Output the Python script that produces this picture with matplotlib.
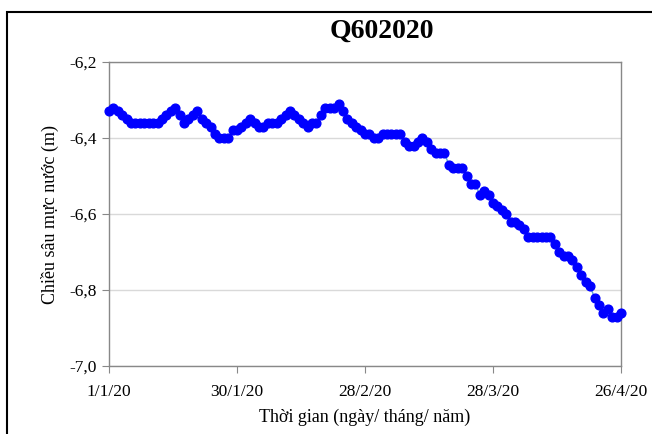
import numpy as np
import pandas as pd
import matplotlib
matplotlib.use("Agg")
import matplotlib.pyplot as plt
import matplotlib.patches as patches
from matplotlib.ticker import FuncFormatter, MultipleLocator

# groundwater depth, daily from 1/1/2020 to 26/4/2020
depth = [
    -6.33, -6.32, -6.33, -6.34, -6.35, -6.36, -6.36, -6.36, -6.36, -6.36,
    -6.36, -6.36, -6.35, -6.34, -6.33, -6.32, -6.34, -6.36, -6.35, -6.34,
    -6.33, -6.35, -6.36, -6.37, -6.39, -6.40, -6.40, -6.40, -6.38, -6.38,
    -6.37, -6.36, -6.35, -6.36, -6.37, -6.37, -6.36, -6.36, -6.36, -6.35,
    -6.34, -6.33, -6.34, -6.35, -6.36, -6.37, -6.36, -6.36, -6.34, -6.32,
    -6.32, -6.32, -6.31, -6.33, -6.35, -6.36, -6.37, -6.38, -6.39, -6.39,
    -6.40, -6.40, -6.39, -6.39, -6.39, -6.39, -6.39, -6.41, -6.42, -6.42,
    -6.41, -6.40, -6.41, -6.43, -6.44, -6.44, -6.44, -6.47, -6.48, -6.48,
    -6.48, -6.50, -6.52, -6.52, -6.55, -6.54, -6.55, -6.57, -6.58, -6.59,
    -6.60, -6.62, -6.62, -6.63, -6.64, -6.66, -6.66, -6.66, -6.66, -6.66,
    -6.66, -6.68, -6.70, -6.71, -6.71, -6.72, -6.74, -6.76, -6.78, -6.79,
    -6.82, -6.84, -6.86, -6.85, -6.87, -6.87, -6.86,
]
start = "2020-01-01"
title = "Q602020"
xlabel = "Thời gian (ngày/ tháng/ năm)"
ylabel = "Chiều sâu mực nước (m)"

dates = pd.date_range(start, periods=len(depth), freq="D")
day = (dates - dates[0]).days.values

plt.rcParams['font.family'] = ['Liberation Serif', 'DejaVu Serif']

fig = plt.figure(figsize=(6.52, 4.34), dpi=100)
ax = fig.add_axes([109/652, 1-366/434, (621-109)/652, (366-62)/434])

ax.plot(day, depth, '-', color='#5aa0d8', lw=1.0, zorder=2)
ax.plot(day, depth, 'o', color='#0000ff', ms=6.3, mec='#0000ff', zorder=3, clip_on=False)

ax.set_xlim(0, 116)
ax.set_ylim(-7.0, -6.2)
ax.xaxis.set_major_locator(MultipleLocator(29))
ax.yaxis.set_major_locator(MultipleLocator(0.2))

def xfmt(v, pos):
    d = dates[0] + pd.Timedelta(days=int(round(v)))
    return "%d/%d/%s" % (d.day, d.month, str(d.year)[2:])

def yfmt(v, pos):
    return ("%.1f" % v).replace('.', ',')

ax.xaxis.set_major_formatter(FuncFormatter(xfmt))
ax.yaxis.set_major_formatter(FuncFormatter(yfmt))
ax.tick_params(labelsize=12.5, colors='black', direction='out', length=5, width=0.8)
ax.tick_params(axis='both', color='#888888')
ax.tick_params(axis='x', pad=8)
ax.grid(axis='y', color='#d9d9d9', lw=1.0)
ax.set_axisbelow(True)
for s in ax.spines.values():
    s.set_color('#888888')
    s.set_linewidth(1.0)

ax.set_xlabel(xlabel, fontsize=13, labelpad=6)
ax.set_ylabel(ylabel, fontsize=13, labelpad=8)
fig.text(382/652, 1-31/434, title, fontsize=20, fontweight='bold', ha='center', va='center')

# chart-area border (only left and top edges fall inside the image)
fig.patches.append(patches.Rectangle((7/652, -0.5), 2.0, 1.5-12/434, transform=fig.transFigure,
                                     fill=False, ec='black', lw=1.5))

fig.savefig("out.png", dpi=100)
